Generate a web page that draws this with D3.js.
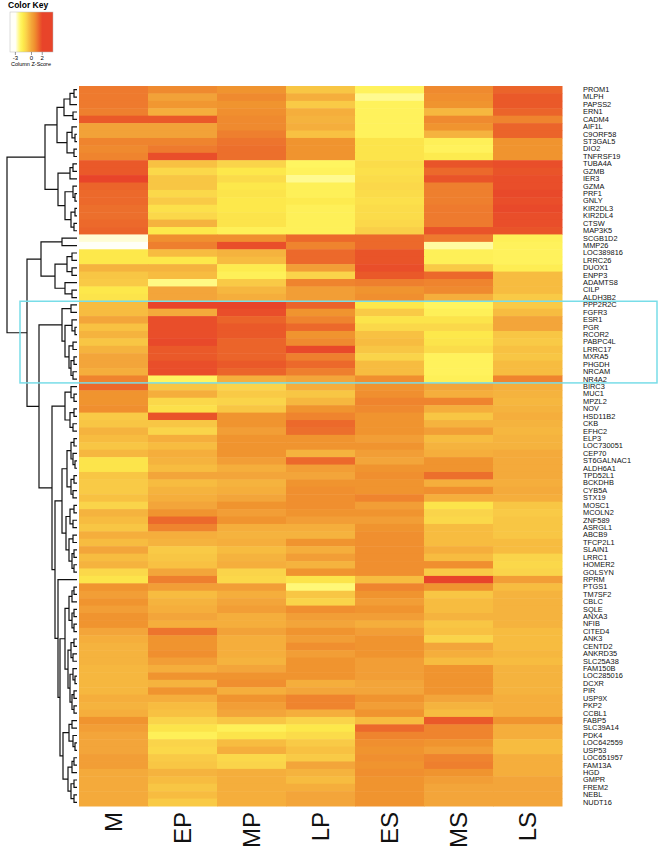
<!DOCTYPE html>
<html>
<head>
<meta charset="utf-8">
<script src="https://cdn.jsdelivr.net/npm/d3@7"></script>
<style>
body { margin: 0; background: #fff; }
text { font-family: "Liberation Sans", Arial, sans-serif; }
</style>
</head>
<body>
<script>
var stages = ["M", "EP", "MP", "LP", "ES", "MS", "LS"];

var genes = ["PROM1","MLPH","PAPSS2","ERN1","CADM4","AIF1L","C9ORF58","ST3GAL5","DIO2","TNFRSF19",
  "TUBA4A","GZMB","IER3","GZMA","PRF1","GNLY","KIR2DL3","KIR2DL4","CTSW","MAP3K5",
  "SCGB1D2","MMP26","LOC389816","LRRC26","DUOX1","ENPP3","ADAMTS8","CILP","ALDH3B2","PPP2R2C",
  "FGFR3","ESR1","PGR","RCOR2","PABPC4L","LRRC17","MXRA5","PHGDH","NRCAM","NR4A2",
  "BIRC3","MUC1","MPZL2","NOV","HSD11B2","CKB","EFHC2","ELP3","LOC730051","CEP70",
  "ST6GALNAC1","ALDH6A1","TPD52L1","BCKDHB","CYB5A","STX19","MOSC1","MCOLN2","ZNF589","ASRGL1",
  "ABCB9","TFCP2L1","SLAIN1","LRRC1","HOMER2","GOLSYN","RPRM","PTGS1","TM7SF2","CBLC",
  "SQLE","ANXA3","NFIB","CITED4","ANK3","CENTD2","ANKRD35","SLC25A38","FAM150B","LOC285016",
  "DCXR","PIR","USP9X","PKP2","CCBL1","FABP5","SLC39A14","PDK4","LOC642559","USP53",
  "LOC651957","FAM13A","HGD","GMPR","FREM2","NEBL","NUDT16"];

// column z-scores, one array per stage, in gene order
var zM = [1.0,1.0,1.0,0.9,1.6,0.1,0.1,0.8,0.7,0.8,
  1.6,1.6,2.0,1.4,1.3,1.3,1.2,1.2,1.3,1.4,
  -2.8,-3.0,-1.5,-1.5,-0.3,-0.7,-0.8,-1.5,-1.4,-0.5,
  -0.5,0.0,-0.6,-0.3,-0.7,-0.3,0.0,0.0,-0.2,0.8,
  1.3,0.5,0.5,0.6,-0.8,-0.7,-0.3,-0.5,-0.7,-0.4,
  -1.4,-1.4,-0.7,-0.8,-0.8,-0.6,-1.0,-0.3,-0.5,-0.7,
  -0.2,-0.5,0.0,-0.5,-0.3,-1.1,-1.4,0.5,0.2,0.5,
  0.2,0.5,0.5,0.0,-0.2,-0.3,-0.3,-0.3,-0.4,-0.4,
  -0.4,-0.4,-0.2,-0.3,-0.2,0.5,0.2,0.0,0.0,0.0,
  0.2,0.2,-0.1,-0.1,-0.1,-0.1,-0.1];
var zEP = [0.7,0.1,0.4,-0.2,1.6,0.1,0.1,0.8,1.0,1.8,
  -0.6,-1.1,-0.7,-0.7,-1.1,-0.8,-1.3,-1.1,-0.3,-1.5,
  0.6,0.9,-0.5,-1.5,-0.3,-0.5,-2.3,0.0,0.0,2.0,
  -0.1,1.8,1.8,1.8,1.9,1.6,1.6,1.8,1.8,-2.0,
  -0.7,-0.2,-1.1,-1.3,1.7,-0.7,-1.0,-0.2,-0.5,-0.2,
  -0.3,-0.5,0.0,-0.5,-0.3,-0.2,0.0,0.5,1.3,0.8,
  -0.2,-0.3,-0.8,-0.7,-0.6,0.0,0.9,0.2,-0.5,-0.3,
  -0.2,0.0,-0.2,1.1,0.5,0.5,0.6,0.2,-0.2,0.5,
  -0.3,0.5,-0.2,-0.5,-0.6,-1.0,-1.4,-1.8,-1.0,-1.1,
  -0.8,-0.7,-0.3,-0.5,-0.7,-0.5,-0.8];
var zMP = [0.5,0.7,0.5,0.6,0.7,0.7,0.9,1.1,1.2,1.2,
  -1.0,-1.5,-1.2,-1.5,-1.4,-1.5,-1.5,-1.4,-1.4,-1.8,
  0.6,1.8,-0.3,-0.5,-1.6,-1.8,-0.8,-0.4,-0.2,2.0,
  1.8,1.4,1.6,1.6,1.4,1.4,1.4,1.6,1.4,-0.2,
  -1.0,-0.8,-1.0,-0.7,0.5,0.5,0.2,0.5,0.5,0.5,
  0.2,-0.2,0.0,-0.3,-0.2,0.0,0.5,0.2,0.5,-0.2,
  -0.3,-0.2,-0.5,-0.3,-0.2,-1.0,-1.1,0.2,-0.2,0.0,
  0.2,-0.2,-0.2,0.1,-0.2,-0.2,-0.2,-0.3,0.0,0.5,
  0.6,-0.2,0.5,0.2,0.0,-0.7,-1.8,-1.4,-0.5,-0.2,
  -1.1,-1.0,-0.2,-0.2,-0.2,-0.2,-0.2];
var zLP = [-0.7,-0.2,-0.8,-0.2,-0.3,-0.2,-0.6,0.5,0.5,0.5,
  -2.0,-1.9,-2.4,-1.8,-1.8,-1.6,-1.8,-1.8,-1.8,-1.8,
  1.3,0.8,1.3,1.3,0.2,-1.0,0.8,0.2,0.2,1.4,
  0.5,0.8,1.3,0.5,0.7,1.9,0.9,1.3,0.9,0.0,
  -0.2,-0.7,-0.4,0.5,0.8,1.3,1.2,0.5,0.5,-0.3,
  1.3,0.2,0.0,0.5,0.6,0.6,0.6,0.5,0.2,-0.2,
  -0.3,0.5,-0.2,0.2,-0.3,0.5,-1.4,-2.2,-0.7,-1.0,
  0.6,0.2,0.0,0.5,0.2,0.6,0.2,0.5,0.5,0.5,
  -0.2,0.0,0.8,0.8,-0.2,-1.0,-1.5,-1.2,-0.8,-0.6,
  -0.8,0.0,-0.3,-0.5,-0.2,0.0,0.0];
var zES = [-1.9,-2.4,-1.9,-1.9,-1.9,-1.9,-1.9,-1.4,-1.4,-1.4,
  -1.2,-1.3,-1.2,-1.1,-1.2,-1.3,-1.2,-1.2,-1.1,-0.9,
  1.3,1.3,1.7,1.7,1.8,1.6,0.9,0.5,0.6,-1.5,
  -0.8,-1.4,-1.1,-0.6,-0.5,-0.7,-1.0,-0.5,-0.5,0.6,
  0.5,0.6,0.8,0.7,0.5,0.5,0.5,0.2,0.5,0.2,
  0.0,0.5,0.6,0.5,0.5,0.8,0.2,0.5,0.2,0.5,
  0.6,0.6,0.6,0.6,0.6,0.6,-0.5,0.8,0.5,0.2,
  0.5,0.2,-0.2,0.2,0.5,0.5,0.5,0.2,0.2,0.2,
  0.0,0.0,0.5,0.2,0.5,-0.5,1.3,0.8,0.6,0.5,
  0.6,0.5,0.6,0.5,0.5,0.5,0.5];
var zMS = [0.7,0.6,0.5,-0.4,0.7,0.5,-0.3,-1.8,-1.9,-1.6,
  1.7,1.3,1.7,0.9,0.9,0.9,1.0,1.0,1.0,1.7,
  1.0,-2.5,-1.8,-1.8,-0.8,1.3,0.8,0.7,-0.2,-2.0,
  -1.8,-1.4,-1.1,-1.5,-1.4,-1.2,-1.9,-1.9,-1.9,-1.8,
  0.0,-0.2,0.8,-0.2,-0.7,-0.3,0.2,-0.5,-0.3,-0.2,
  0.5,0.5,1.2,-0.2,0.6,-0.2,-1.4,-1.0,-1.1,-0.5,
  -0.5,-0.5,-0.2,-0.5,0.6,-0.8,2.0,0.5,-0.7,-0.5,
  -0.5,-0.3,-0.7,-0.6,-1.0,0.0,-0.2,-0.5,0.5,0.5,
  0.5,0.5,0.0,-0.3,-0.5,1.6,0.8,0.8,0.5,0.2,
  0.8,0.9,0.5,0.2,0.0,0.0,0.0];
var zLS = [1.4,1.6,1.6,1.4,0.8,1.4,1.4,0.5,0.5,0.5,
  1.8,1.7,1.8,1.8,1.9,1.8,1.9,1.8,1.8,1.7,
  -1.8,-1.9,-1.9,-1.9,-1.7,-0.5,-0.5,-0.5,-0.8,-0.8,
  -0.5,0.0,0.0,-0.7,-0.8,-0.6,-0.7,-0.5,-0.5,0.8,
  -0.2,-0.3,-0.4,-0.3,-0.2,-0.3,-0.4,-0.3,-0.3,-0.1,
  -0.1,-0.1,-0.1,-0.2,-0.1,-0.2,-0.7,-0.8,-0.7,-0.7,
  -0.7,-0.5,-0.5,-1.0,-1.1,-1.0,0.2,-0.5,-0.3,-0.3,
  -0.3,-0.3,-0.3,-0.5,-0.5,-0.5,-0.4,-0.5,-0.3,-0.3,
  -0.3,-0.3,-0.2,-0.2,-0.2,0.5,-0.2,-0.2,-0.5,-0.5,
  -0.2,-0.2,-0.2,0.0,0.0,0.0,0.0];
var zScores = [zM, zEP, zMP, zLP, zES, zMS, zLS];

var keyTicks = [-3, 0, 2];

// row dendrogram: [merge height, left, right]; numbers are gene rows (1-based)
var tree = [70,
  [32,
    [20, [13, [7, [3, 1, 2], 3], [4, 4, 5]], [10, [5, 6, [2, 7, 8]], [3, 9, 10]]],
    [19, [7, [4, 11, 12], 13], [12, [4, 14, [2, 15, 16]], [6, [2, 17, 18], [3, 19, 20]]]]],
  [50,
    [36, [15, 21, 22], [22, [10, [5, 23, 24], [5, 25, 26]], [12, 27, [5, 28, 29]]]],
    [38,
      [15, [6, 30, 31], [12, [5, 32, [2, 33, 34]], [8, [4, 35, 36], [6, [3, 37, 38], [4, 39, 40]]]]],
      [25,
        [12, [6, 41, [3, 42, 43]], [7, [3, 44, 45], [4, 46, 47]]],
        [22,
          [15,
            [10, [6, [3, 48, 49], [4, 50, [2, 51, 52]]], [6, [3, 53, 54], [4, 55, 56]]],
            [11, [7, [3, 57, 58], [4, 59, 60]], [8, [4, 61, 62], [5, [3, 63, 64], [3, 65, 66]]]]],
          [19, 67,
            [17,
              [12, [8, [5, [3, 68, 69], 70], [5, [3, 71, 72], [3, 73, 74]]],
                   [9, [6, [3, 75, 76], [4, 77, 78]], [7, [4, 79, [2, 80, 81]], [5, [3, 82, 83], [3, 84, 85]]]]],
              [14, [8, [5, 86, 87], [4, 88, [2, 89, 90]]], [9, [5, [3, 91, 92], 93], [6, [3, 94, 95], [3, 96, 97]]]]]]]]]]];

var svg = d3.select("body").append("svg")
  .attr("width", 660)
  .attr("height", 860);

var x = d3.scaleBand().domain(stages).range([79, 562]);
var y = d3.scaleBand().domain(genes).range([86, 806]);
var color = d3.scaleLinear()
  .domain([-3, -2.4, -2, -1.5, -1, -0.5, 0, 0.5, 1, 1.5, 2])
  .range(["#fffff8", "#fffa90", "#fff560", "#fde84b", "#fad44a", "#f7bc40",
          "#f3a53a", "#f0942f", "#ee7a2e", "#ea5e29", "#e8442a"])
  .clamp(true);

// heatmap cells
var cells = [];
genes.forEach(function(g, i) {
  stages.forEach(function(s, j) {
    cells.push({ gene: g, stage: s, z: zScores[j][i] });
  });
});
svg.append("g").selectAll("rect")
  .data(cells)
  .enter()
  .append("rect")
  .attr("x", function(d) { return x(d.stage); })
  .attr("y", function(d) { return y(d.gene); })
  .attr("width", x.bandwidth() + 0.5)
  .attr("height", y.bandwidth() + 0.5)
  .attr("fill", function(d) { return color(d.z); });

// row labels
svg.append("g").selectAll("text")
  .data(genes)
  .enter()
  .append("text")
  .attr("transform", function(d) { return "translate(583," + (y(d) + y.bandwidth() / 2) + ") scale(1.14,1)"; })
  .attr("dy", "0.36em")
  .attr("font-size", 6.5)
  .attr("fill", "#111")
  .text(function(d) { return d; });

// column labels
svg.append("g").selectAll("text")
  .data(stages)
  .enter()
  .append("text")
  .attr("transform", function(d) { return "translate(" + (x(d) + x.bandwidth() / 2) + ",812) rotate(-90)"; })
  .attr("dy", "0.36em")
  .attr("text-anchor", "end")
  .attr("font-size", 24)
  .attr("fill", "#111")
  .text(function(d) { return d; });

// dendrogram
function toNode(t) {
  return Array.isArray(t)
    ? { h: t[0], children: [toNode(t[1]), toNode(t[2])] }
    : { h: 0, gene: genes[t - 1] };
}
var root = d3.hierarchy(toNode(tree));
var hx = d3.scaleLinear().domain([0, 70]).range([77, 7]);
root.eachAfter(function(n) {
  n.px = hx(n.data.h);
  n.py = n.children ? d3.mean(n.children, function(c) { return c.py; }) : y(n.data.gene) + y.bandwidth() / 2;
});
svg.append("g")
  .attr("fill", "none")
  .attr("stroke", "#111")
  .attr("stroke-width", 1.2)
  .selectAll("path")
  .data(root.descendants().filter(function(n) { return n.children; }))
  .enter()
  .append("path")
  .attr("d", function(n) {
    var a = n.children[0], b = n.children[1];
    return "M" + a.px + "," + a.py + "H" + n.px + "V" + b.py + "H" + b.px;
  });

// highlight box
var boxTop = y("PPP2R2C"), boxBottom = y("NR4A2") + y.bandwidth();
svg.append("rect")
  .attr("x", 20)
  .attr("y", boxTop)
  .attr("width", 637)
  .attr("height", boxBottom - boxTop)
  .attr("fill", "none")
  .attr("stroke", "#78dde8")
  .attr("stroke-width", 1.5);

// color key
var keyX = d3.scaleLinear().domain([-4, 4]).range([10, 53]);
var grad = svg.append("defs").append("linearGradient").attr("id", "keygrad");
grad.selectAll("stop")
  .data(d3.range(-4, 4.01, 0.25))
  .enter()
  .append("stop")
  .attr("offset", function(d) { return (d + 4) / 8; })
  .attr("stop-color", function(d) { return color(d); });
var key = svg.append("g");
key.append("text").attr("x", 8).attr("y", 8).attr("font-size", 8.5).attr("font-weight", "bold").text("Color Key");
key.append("rect").attr("x", 10).attr("y", 12).attr("width", 43).attr("height", 40)
  .attr("fill", "url(#keygrad)").attr("stroke", "#bbb").attr("stroke-width", 0.5);
key.selectAll("line.tick").data(keyTicks).enter().append("line")
  .attr("x1", function(d) { return keyX(d); }).attr("x2", function(d) { return keyX(d); })
  .attr("y1", 52).attr("y2", 55).attr("stroke", "#333").attr("stroke-width", 0.5);
key.selectAll("text.tick").data(keyTicks).enter().append("text")
  .attr("x", function(d) { return keyX(d); }).attr("y", 60)
  .attr("text-anchor", "middle").attr("font-size", 6).text(function(d) { return d; });
key.append("text").attr("x", 31).attr("y", 66).attr("text-anchor", "middle")
  .attr("font-size", 5.5).text("Column Z-Score");
</script>
</body>
</html>
